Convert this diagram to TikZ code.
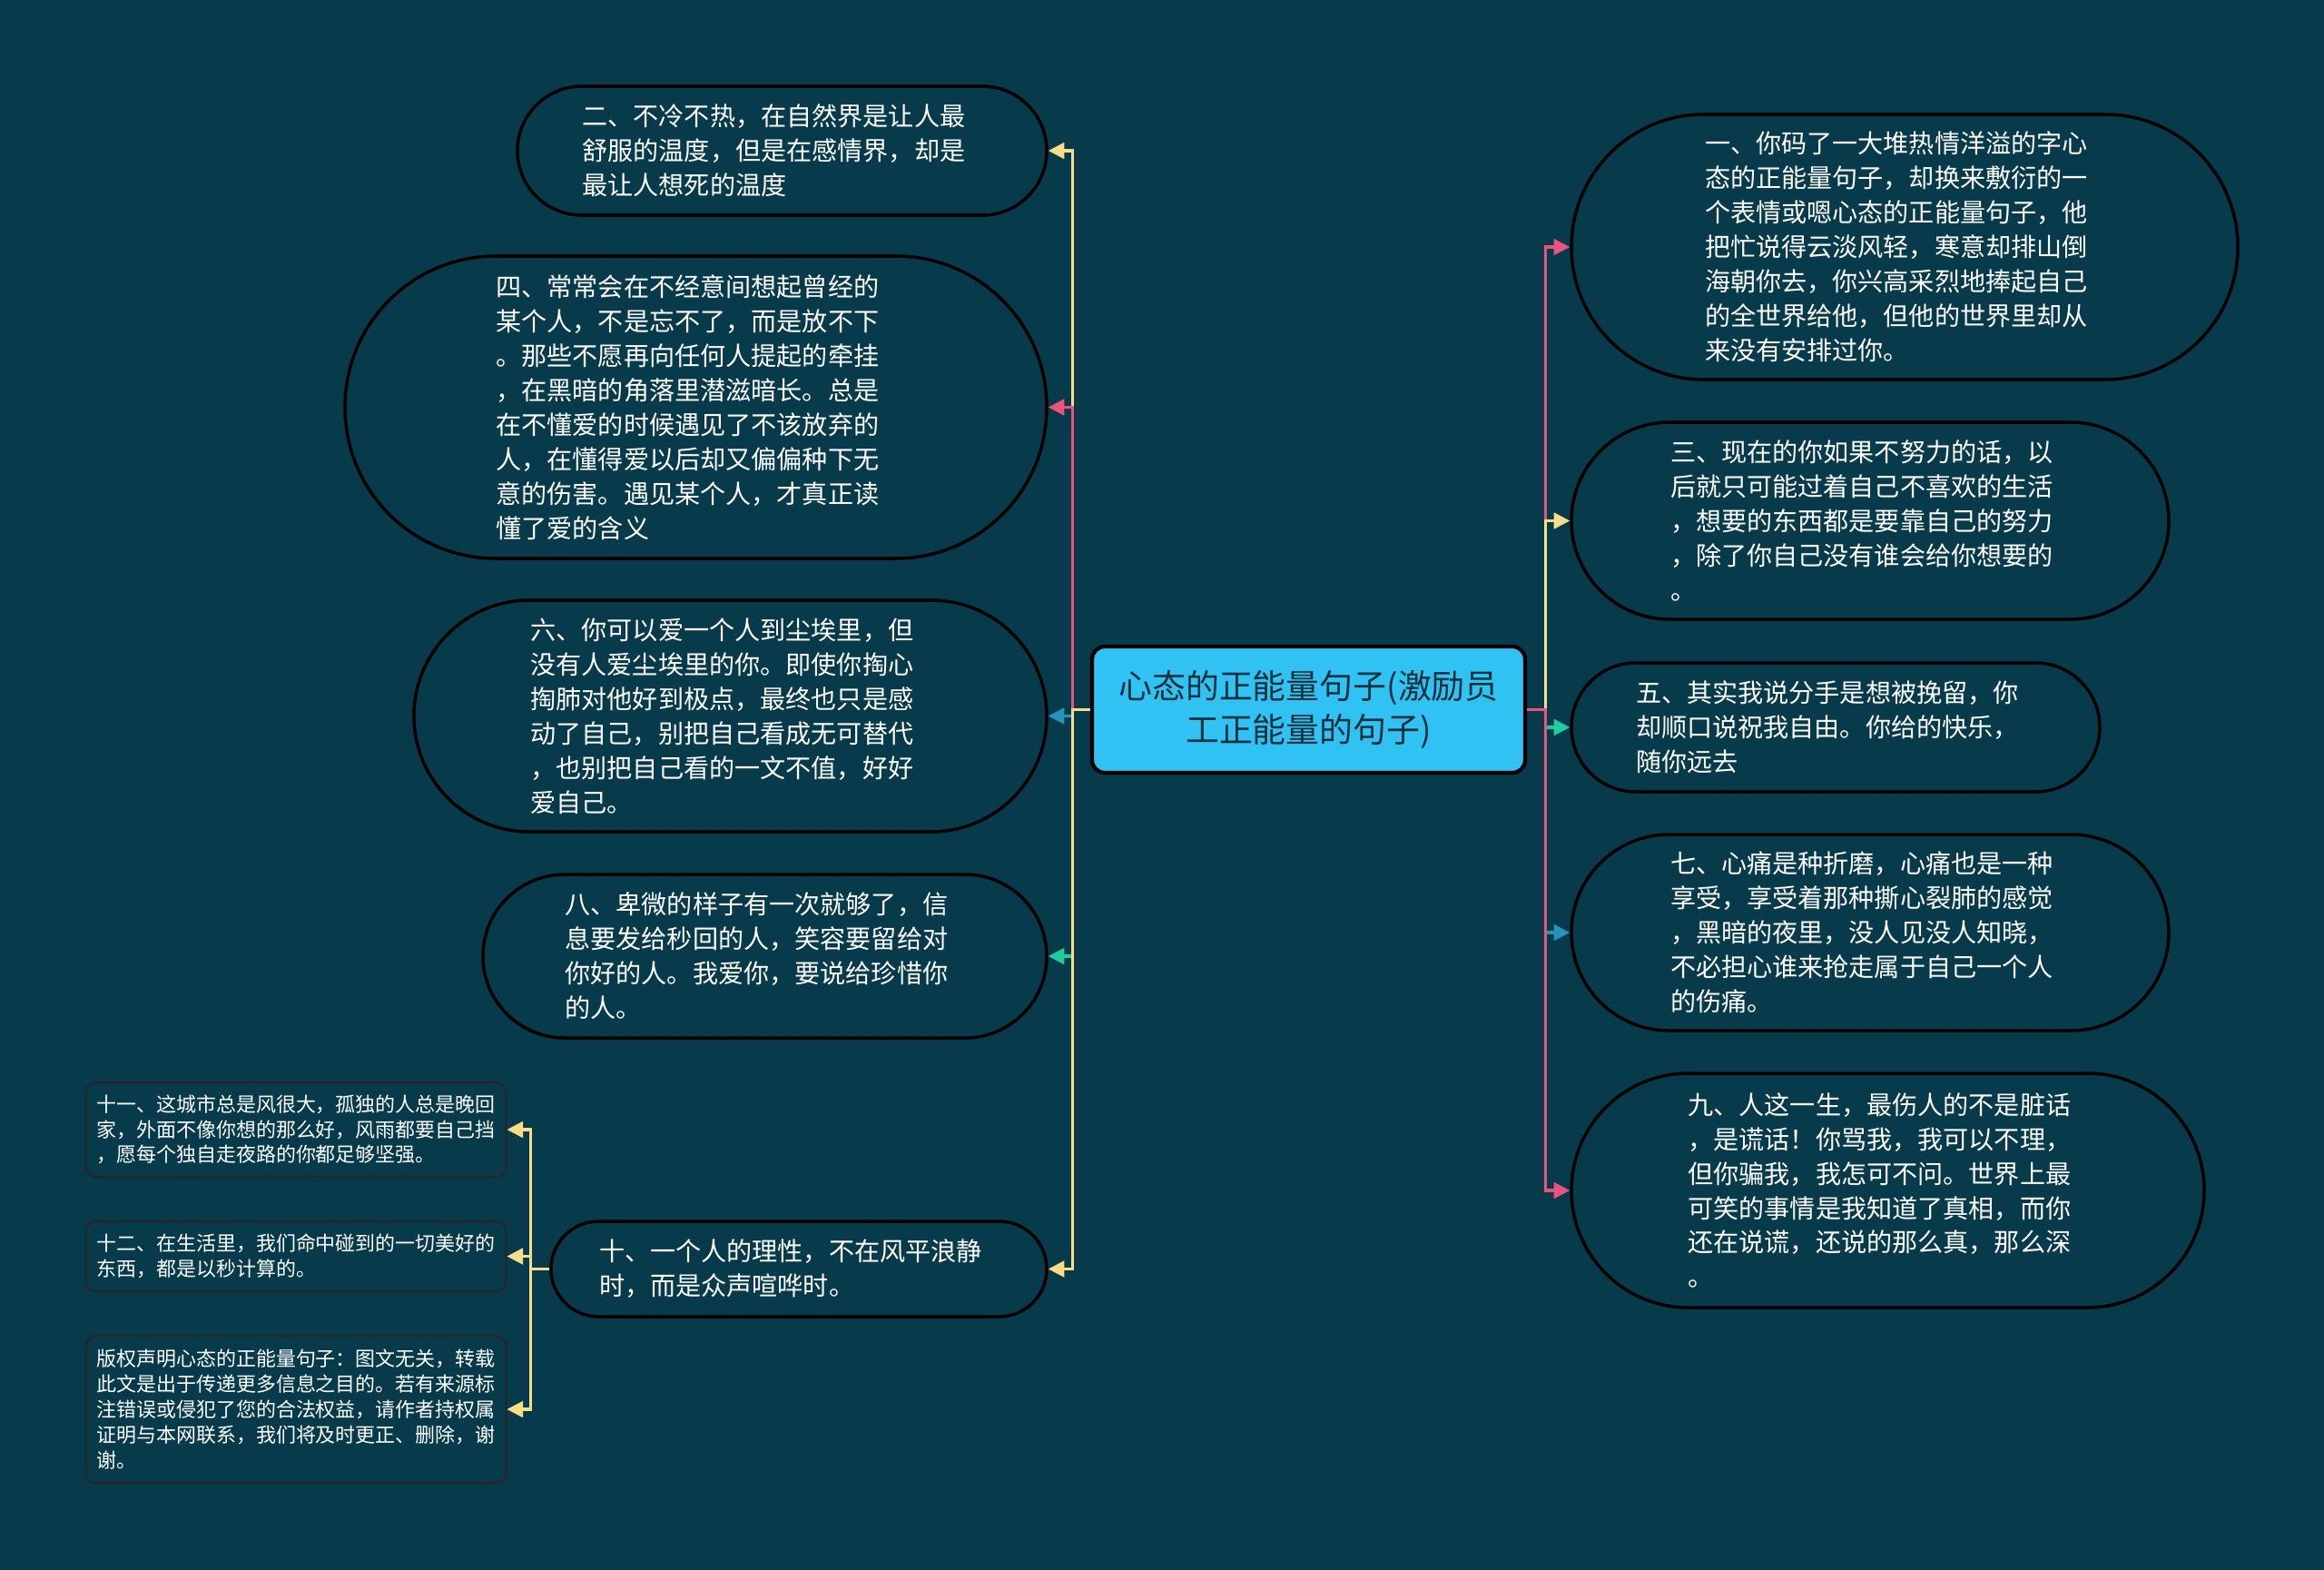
\documentclass[tikz,border=0pt]{standalone}
\usepackage{xcolor}
\usepackage{fontspec}
\setmainfont{Noto Sans CJK SC}
\usepackage{tikz}
\usetikzlibrary{shapes,arrows.meta,positioning,calc}

\definecolor{bgteal}{HTML}{073B4C}
\definecolor{rootblue}{HTML}{2FC2F2}
\definecolor{rootink}{HTML}{17303D}
\definecolor{linkpink}{HTML}{E8547C}
\definecolor{linkyellow}{HTML}{F8DC86}
\definecolor{linkgreen}{HTML}{1BCF9E}
\definecolor{linkblue}{HTML}{2593BC}

\begin{document}
\begin{tikzpicture}[
    root/.style={rectangle, draw=black, line width=1.2pt, rounded corners=4pt, fill=rootblue, text=rootink, align=center, minimum width=4.77cm, minimum height=1.39cm, font=\fontsize{10.5}{13.9}\selectfont},
    quote/.style={rectangle, draw=black, line width=1pt, fill=bgteal, text=white, text width=4.4cm, align=left, font=\fontsize{8}{10.8}\selectfont},
    dims/.style 2 args={minimum width=#1cm, minimum height=#2cm, rounded corners=#2*0.499cm},
    note/.style={rectangle, draw=black!85, line width=0.6pt, rounded corners=3pt, fill=bgteal, text=white, align=left, minimum width=4.62cm, font=\fontsize{6.25}{7.9}\selectfont},
    link/.style={line width=0.9pt, -{Triangle[length=5pt,width=5pt]}}
]

\fill[bgteal] (0,0) rectangle (25.6,-17.29);
\useasboundingbox (0,0) rectangle (25.6,-17.29);

\node[root] (root) at (14.415,-7.815) {心态的正能量句子(激励员\\工正能量的句子)};

\node[quote, dims={5.83}{1.42}] (n2) at (8.615,-1.66) {二、不冷不热，在自然界是让人最\\
舒服的温度，但是在感情界，却是\\
最让人想死的温度};
\node[quote, dims={7.73}{3.33}] (n4) at (7.665,-4.485) {四、常常会在不经意间想起曾经的\\
某个人，不是忘不了，而是放不下\\
。那些不愿再向任何人提起的牵挂\\
，在黑暗的角落里潜滋暗长。总是\\
在不懂爱的时候遇见了不该放弃的\\
人，在懂得爱以后却又偏偏种下无\\
意的伤害。遇见某个人，才真正读\\
懂了爱的含义};
\node[quote, dims={6.97}{2.55}] (n6) at (8.045,-7.885) {六、你可以爱一个人到尘埃里，但\\
没有人爱尘埃里的你。即使你掏心\\
掏肺对他好到极点，最终也只是感\\
动了自己，别把自己看成无可替代\\
，也别把自己看的一文不值，好好\\
爱自己。};
\node[quote, dims={6.21}{1.80}] (n8) at (8.425,-10.53) {八、卑微的样子有一次就够了，信\\
息要发给秒回的人，笑容要留给对\\
你好的人。我爱你，要说给珍惜你\\
的人。};
\node[quote, dims={5.46}{1.05}] (n10) at (8.80,-13.975) {十、一个人的理性，不在风平浪静\\
时，而是众声喧哗时。};

\node[quote, dims={7.34}{2.92}] (n1) at (20.98,-2.72) {一、你码了一大堆热情洋溢的字心\\
态的正能量句子，却换来敷衍的一\\
个表情或嗯心态的正能量句子，他\\
把忙说得云淡风轻，寒意却排山倒\\
海朝你去，你兴高采烈地捧起自己\\
的全世界给他，但他的世界里却从\\
来没有安排过你。};
\node[quote, dims={6.58}{2.17}] (n3) at (20.60,-5.735) {三、现在的你如果不努力的话，以\\
后就只可能过着自己不喜欢的生活\\
，想要的东西都是要靠自己的努力\\
，除了你自己没有谁会给你想要的\\
。};
\node[quote, dims={5.82}{1.42}] (n5) at (20.22,-8.01) {五、其实我说分手是想被挽留，你\\
却顺口说祝我自由。你给的快乐，\\
随你远去};
\node[quote, dims={6.58}{2.16}] (n7) at (20.60,-10.27) {七、心痛是种折磨，心痛也是一种\\
享受，享受着那种撕心裂肺的感觉\\
，黑暗的夜里，没人见没人知晓，\\
不必担心谁来抢走属于自己一个人\\
的伤痛。};
\node[quote, dims={6.97}{2.58}] (n9) at (20.795,-13.11) {九、人这一生，最伤人的不是脏话\\
，是谎话！你骂我，我可以不理，\\
但你骗我，我怎可不问。世界上最\\
可笑的事情是我知道了真相，而你\\
还在说谎，还说的那么真，那么深\\
。};

\node[note, minimum height=1.04cm] (n11) at (3.26,-12.44) {十一、这城市总是风很大，孤独的人总是晚回\\
家，外面不像你想的那么好，风雨都要自己挡\\
，愿每个独自走夜路的你都足够坚强。};
\node[note, minimum height=0.77cm] (n12) at (3.26,-13.835) {十二、在生活里，我们命中碰到的一切美好的\\
东西，都是以秒计算的。};
\node[note, minimum height=1.62cm] (n13) at (3.26,-15.52) {版权声明心态的正能量句子：图文无关，转载\\
此文是出于传递更多信息之目的。若有来源标\\
注错误或侵犯了您的合法权益，请作者持权属\\
证明与本网联系，我们将及时更正、删除，谢\\
谢。};

\draw[link, linkyellow] (root.west) -- ++(-0.19,0) |- (n2.east);
\draw[link, linkpink] (root.west) -- ++(-0.19,0) |- (n4.east);
\draw[link, linkblue] (root.west) -- ++(-0.19,0) |- (n6.east);
\draw[link, linkgreen] (root.west) -- ++(-0.19,0) |- (n8.east);
\draw[link, linkyellow] (root.west) -- ++(-0.19,0) |- (n10.east);

\draw[link, linkpink] (root.east) -- ++(0.20,0) |- (n1.west);
\draw[link, linkyellow] (root.east) -- ++(0.20,0) |- (n3.west);
\draw[link, linkgreen] (root.east) -- ++(0.20,0) |- (n5.west);
\draw[link, linkblue] (root.east) -- ++(0.20,0) |- (n7.west);
\draw[link, linkpink] (root.east) -- ++(0.20,0) |- (n9.west);

\draw[link, linkyellow] (n10.west) -- ++(-0.21,0) |- (n11.east);
\draw[link, linkyellow] (n10.west) -- ++(-0.21,0) |- (n12.east);
\draw[link, linkyellow] (n10.west) -- ++(-0.21,0) |- (n13.east);

\end{tikzpicture}
\end{document}
